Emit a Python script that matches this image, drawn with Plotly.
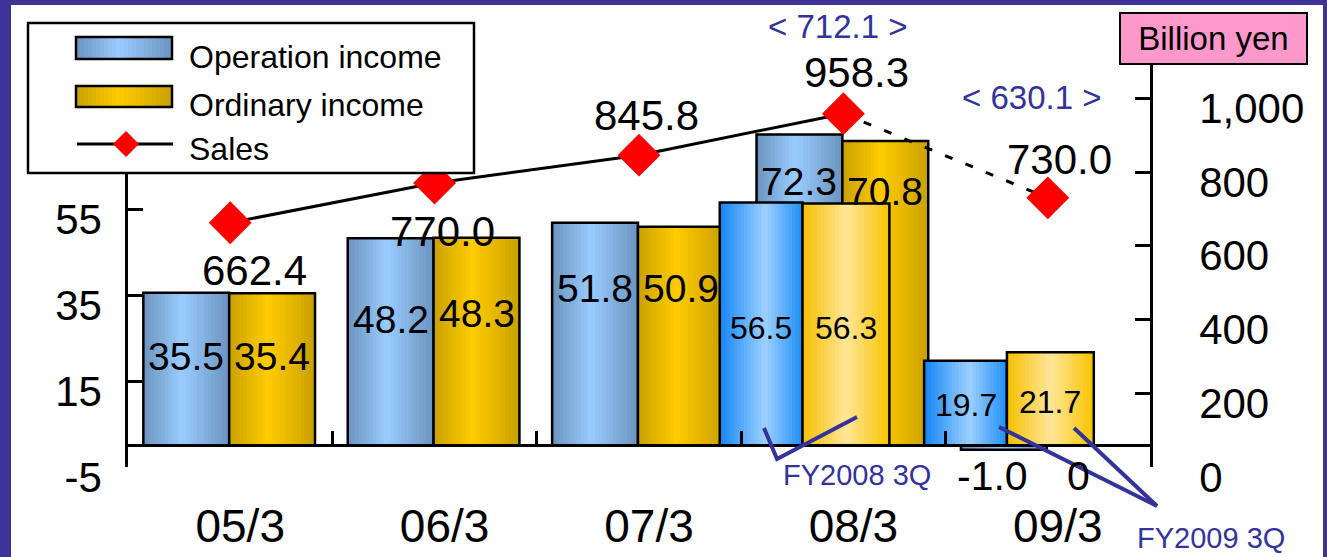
import plotly.graph_objects as go

# ---------------- data ----------------
categories = ["05/3", "06/3", "07/3", "08/3", "09/3"]
operation_income = [35.5, 48.2, 51.8, 72.3, -1.0]
ordinary_income = [35.4, 48.3, 50.9, 70.8, 0.0]
operation_income_3q = [None, None, None, 56.5, 19.7]
ordinary_income_3q = [None, None, None, 56.3, 21.7]
sales = [662.4, 770.0, 845.8, 958.3, 730.0]
sales_3q = [None, None, None, 712.1, 630.1]
left_ticks = [-5, 15, 35, 55]
left_tick_text = ["-5", "15", "35", "55"]
right_ticks = [0, 200, 400, 600, 800, 1000]

# ---------------- geometry / style ----------------
W, H = 1327, 557
PL, PR, PT, PB = 128, 1150, 65, 467          # plot area in page pixels
LEFT_PX_PER_UNIT = 4.3
RIGHT_PX_PER_UNIT = 0.3687
LEFT_RANGE = [-5, -5 + (PB - PT) / LEFT_PX_PER_UNIT]
RIGHT_RANGE = [0, (PB - PT) / RIGHT_PX_PER_UNIT]
FONT = "Arial, 'Liberation Sans', sans-serif"
BLUE = "#333399"
PURPLE = "#3f3399"


def px(x):
    return (x - PL) / (PR - PL)


def py(y):
    return (PB - y) / (PB - PT)


def hex2rgb(h):
    h = h.lstrip("#")
    return tuple(int(h[i:i + 2], 16) for i in (0, 2, 4))


def grad(stops, t):
    for (t0, c0), (t1, c1) in zip(stops[:-1], stops[1:]):
        if t0 <= t <= t1:
            f = 0 if t1 == t0 else (t - t0) / (t1 - t0)
            a, b = hex2rgb(c0), hex2rgb(c1)
            r = [round(a[k] + (b[k] - a[k]) * f) for k in range(3)]
            return "rgb(%d,%d,%d)" % tuple(r)
    return stops[-1][1]


OP_STOPS = [(0, "#6b94be"), (0.45, "#9accff"), (1, "#6b94be")]
ORD_STOPS = [(0, "#c9a100"), (0.45, "#ffcc00"), (1, "#c9a100")]
OP3Q_STOPS = [(0, "#1486f5"), (0.55, "#9dd0ff"), (1, "#1f8ff5")]
ORD3Q_STOPS = [(0, "#f5c000"), (0.5, "#ffe699"), (1, "#f8c400")]

bar_series = [
    (operation_income, -0.425, 0.42, OP_STOPS),
    (ordinary_income, -0.005, 0.42, ORD_STOPS),
    (operation_income_3q, -0.605, 0.405, OP3Q_STOPS),
    (ordinary_income_3q, -0.2, 0.425, ORD3Q_STOPS),
]
# label vertical positions (left-axis units) and font sizes for each series
label_pos = [
    [20.6, 29.2, 36.6, 61.3, -7.2],
    [20.6, 30.8, 36.6, 59.0, -7.2],
    [None, None, None, 27.3, 9.4],
    [None, None, None, 27.3, 10.1],
]
label_size = [39, 39, 32, 32]

N = 24
fig = go.Figure()
annotations = []

for si, (vals, off, w, stops) in enumerate(bar_series):
    step = w / N
    for i in range(N):
        fig.add_trace(go.Bar(
            x=categories, y=vals, offset=off + i * step,
            width=min(step * 1.6, w - i * step),
            marker=dict(color=grad(stops, (i + 0.5) / N), line=dict(width=0)),
            hoverinfo="skip", showlegend=False, yaxis="y"))
    fig.add_trace(go.Bar(
        x=categories, y=vals, offset=off, width=w,
        marker=dict(color="rgba(0,0,0,0)", line=dict(color="black", width=2.5)),
        hoverinfo="skip", showlegend=False, yaxis="y"))
    for ci, v in enumerate(vals):
        if v is None:
            continue
        ly = label_pos[si][ci]
        below = ly < LEFT_RANGE[0]
        txt = "0" if v == 0 else f"{v:.1f}"
        if below:
            yy, ys = LEFT_RANGE[0] + 0.1, (ly - LEFT_RANGE[0] - 0.1) * LEFT_PX_PER_UNIT
        else:
            yy, ys = ly, 0
        annotations.append(dict(
            x=ci + off + w / 2, y=yy, xref="x", yref="y", text=txt,
            showarrow=False, xshift=-11 if below else 0, yshift=ys,
            font=dict(size=41 if below else label_size[si], color="black", family=FONT),
            xanchor="center", yanchor="middle"))

# sales line
fig.add_trace(go.Scatter(x=categories[:4], y=sales[:4], mode="lines",
                         line=dict(color="black", width=3), yaxis="y2",
                         hoverinfo="skip", showlegend=False))
fig.add_trace(go.Scatter(x=categories[3:], y=sales[3:], mode="lines",
                         line=dict(color="black", width=3, dash="8px,14px"), yaxis="y2",
                         hoverinfo="skip", showlegend=False))
fig.add_trace(go.Scatter(x=categories, y=sales, mode="markers",
                         marker=dict(symbol="diamond", size=33, color="#ff0000", line=dict(width=0)),
                         yaxis="y2", hoverinfo="skip", showlegend=False))

sales_shift = [(24, -48), (8, -48), (7, 40), (13, 41), (12, 38)]
for ci, v in enumerate(sales):
    dx, dy = sales_shift[ci]
    annotations.append(dict(x=categories[ci], y=v, xref="x", yref="y2", text=f"{v:.1f}",
                            showarrow=False, xshift=dx, yshift=dy,
                            xanchor="center", yanchor="middle",
                            font=dict(size=42, color="black", family=FONT)))
sales3q_shift = [None, None, None, (-6, 87), (-16, 100)]
for ci, v in enumerate(sales_3q):
    if v is None:
        continue
    dx, dy = sales3q_shift[ci]
    annotations.append(dict(x=categories[ci], y=sales[ci], xref="x", yref="y2",
                            text=f"&lt; {v:.1f} &gt;", showarrow=False, xshift=dx, yshift=dy,
                            xanchor="center", yanchor="middle",
                            font=dict(size=33, color=BLUE, family=FONT)))

# callout texts
annotations.append(dict(x=px(857), y=py(475), xref="paper", yref="paper", text="FY2008 3Q",
                        showarrow=False, xanchor="center", yanchor="middle",
                        font=dict(size=29, color=BLUE, family=FONT)))
annotations.append(dict(x=px(1211), y=py(538), xref="paper", yref="paper", text="FY2009 3Q",
                        showarrow=False, xanchor="center", yanchor="middle",
                        font=dict(size=29, color=BLUE, family=FONT)))

# unit box
annotations.append(dict(x=px(1213.5), y=py(38.5), xref="paper", yref="paper", text="Billion yen",
                        showarrow=False, width=183, height=47, bgcolor="#ff99cc",
                        xanchor="center", yanchor="middle",
                        bordercolor="black", borderwidth=2,
                        font=dict(size=33, color="black", family=FONT)))

shapes = []
# white page inside purple frame
shapes.append(dict(type="rect", xref="paper", yref="paper", x0=px(11), x1=px(1323),
                   y0=py(600), y1=py(5), fillcolor="white", line=dict(width=0), layer="below"))


def path(points):
    return "M " + " L ".join(f"{px(a)},{py(b)}" for a, b in points)


shapes.append(dict(type="path", xref="paper", yref="paper",
                   path=path([(764, 428), (777, 459), (857, 417)]),
                   line=dict(color=BLUE, width=4), layer="above"))
shapes.append(dict(type="path", xref="paper", yref="paper",
                   path=path([(999, 427), (1157, 506)]),
                   line=dict(color=BLUE, width=4), layer="above"))
shapes.append(dict(type="path", xref="paper", yref="paper",
                   path=path([(1074, 428), (1157, 506)]),
                   line=dict(color=BLUE, width=4), layer="above"))

# custom legend
shapes.append(dict(type="rect", xref="paper", yref="paper", x0=px(28), x1=px(474),
                   y0=py(173), y1=py(23), fillcolor="white",
                   line=dict(color="black", width=2.5), layer="above"))
for (y0, y1, stops) in [(37, 59, OP_STOPS), (86, 107, ORD_STOPS)]:
    x0, x1 = 76, 172
    M = 24
    st = (x1 - x0) / M
    for i in range(M):
        shapes.append(dict(type="rect", xref="paper", yref="paper",
                           x0=px(x0 + i * st), x1=px(min(x0 + (i + 1.5) * st, x1)),
                           y0=py(y1), y1=py(y0), fillcolor=grad(stops, (i + 0.5) / M),
                           line=dict(width=0), layer="above"))
    shapes.append(dict(type="rect", xref="paper", yref="paper", x0=px(x0), x1=px(x1),
                       y0=py(y1), y1=py(y0), fillcolor="rgba(0,0,0,0)",
                       line=dict(color="black", width=2.5), layer="above"))
shapes.append(dict(type="line", xref="paper", yref="paper", x0=px(77), x1=px(173),
                   y0=py(144), y1=py(144), line=dict(color="black", width=3), layer="above"))
shapes.append(dict(type="path", xref="paper", yref="paper",
                   path=path([(113, 144), (126, 131), (139, 144), (126, 157)]) + " Z",
                   fillcolor="#ff0000", line=dict(width=0), layer="above"))
for txt, yc in [("Operation income", 57), ("Ordinary income", 105), ("Sales", 149)]:
    annotations.append(dict(x=px(187), y=py(yc), xref="paper", yref="paper", text=txt,
                            xanchor="left", yanchor="middle", showarrow=False,
                            font=dict(size=32, color="black", family=FONT)))

fig.update_layout(
    width=W, height=H, autosize=False,
    margin=dict(l=PL, r=W - PR, t=PT, b=H - PB, pad=0, autoexpand=False),
    paper_bgcolor=PURPLE, plot_bgcolor="white",
    barmode="overlay", showlegend=False,
    font=dict(family=FONT, color="black"),
    xaxis=dict(type="category", categoryorder="array", categoryarray=categories,
               range=[-0.5, 4.5], anchor="free", position=py(445), automargin=False,
               showline=True, linecolor="black", linewidth=2.5,
               ticks="inside", ticklen=13, tickwidth=2.5, tickcolor="black",
               tickson="boundaries", showgrid=False, zeroline=False,
               tickfont=dict(size=46, family=FONT, color="black"),
               ticklabelstandoff=40, ticklabelshift=10),
    yaxis=dict(range=LEFT_RANGE, tickvals=left_ticks, ticktext=left_tick_text,
               showline=True, linecolor="black", automargin=False,
               linewidth=2.5, ticks="inside", ticklen=15, tickwidth=2.5, tickcolor="black",
               showgrid=False, zeroline=False, ticklabelstandoff=15, ticklabelshift=10,
               tickfont=dict(size=42, family=FONT, color="black")),
    yaxis2=dict(range=RIGHT_RANGE, tickvals=right_ticks, tickformat=",d", overlaying="y",
                side="right", showline=True, linecolor="black", linewidth=2.5,
                automargin=False,
                ticks="inside", ticklen=15, tickwidth=2.5, tickcolor="black",
                showgrid=False, zeroline=False, ticklabelstandoff=38, ticklabelshift=10,
                tickfont=dict(size=42, family=FONT, color="black")),
    annotations=annotations,
    shapes=shapes,
)

fig.write_html("out.html")
